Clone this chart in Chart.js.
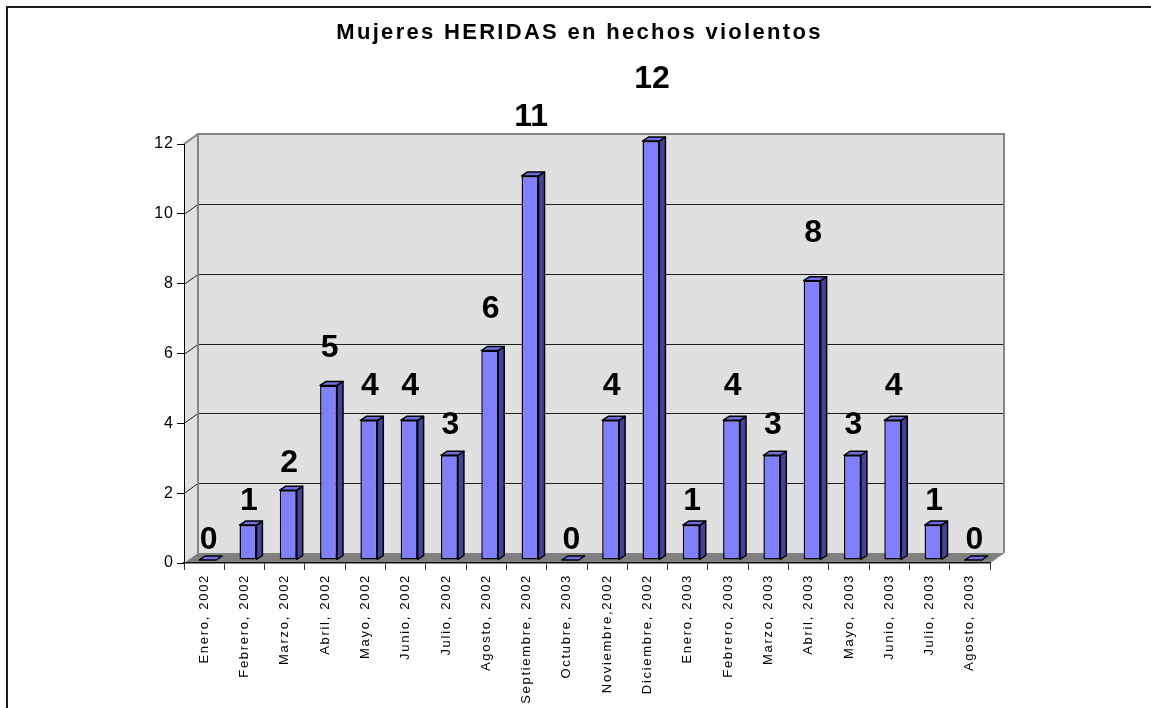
<!DOCTYPE html>
<html>
<head>
<meta charset="utf-8">
<script src="https://cdn.jsdelivr.net/npm/chart.js@4.4.0/dist/chart.umd.min.js"></script>
<style>
  html, body { margin: 0; padding: 0; background: #ffffff; }
  #wrap { width: 1151px; height: 708px; }
  canvas { display: block; }
</style>
</head>
<body>
<div id="wrap"><canvas id="chart" width="1151" height="708"></canvas></div>
<script>
// Monthly count of women injured in violent incidents
const categories = [
  'Enero, 2002', 'Febrero, 2002', 'Marzo, 2002', 'Abril, 2002', 'Mayo, 2002',
  'Junio, 2002', 'Julio, 2002', 'Agosto, 2002', 'Septiembre, 2002', 'Octubre, 2003',
  'Noviembre,2002', 'Diciembre, 2002', 'Enero, 2003', 'Febrero, 2003', 'Marzo, 2003',
  'Abril, 2003', 'Mayo, 2003', 'Junio, 2003', 'Julio, 2003', 'Agosto, 2003'
];
const heridas = [0, 1, 2, 5, 4, 4, 3, 6, 11, 0, 4, 12, 1, 4, 3, 8, 3, 4, 1, 0];
const axisMax = 12;
const axisStep = 2;
const chartTitle = 'Mujeres HERIDAS en hechos violentos';

const FONT = "'Liberation Sans', Arial, Helvetica, sans-serif";

// Depth offsets of the pseudo-3D walls and of the bars
const WALL = { dx: 14, dy: -10 };
const BAR = { dx: 3.5, dy: -3, depthX: 6, depthY: -4 };

function tracePath(ctx, pts) {
  ctx.beginPath();
  ctx.moveTo(pts[0][0], pts[0][1]);
  for (let i = 1; i < pts.length; i++) ctx.lineTo(pts[i][0], pts[i][1]);
  ctx.closePath();
}

// Frame, back wall, side wall, floor and wall gridlines
const walls3d = {
  id: 'walls3d',
  beforeDraw(chart) {
    const { ctx, chartArea: a, scales: { y } } = chart;
    const L = a.left, R = a.right, T = a.top, B = a.bottom;
    const dx = WALL.dx, dy = WALL.dy;
    ctx.save();
    ctx.fillStyle = '#ffffff';
    ctx.fillRect(0, 0, chart.width, chart.height);

    // outer frame (top and left edges)
    ctx.strokeStyle = '#1c1c1c';
    ctx.lineWidth = 2;
    ctx.beginPath();
    ctx.moveTo(7, chart.height);
    ctx.lineTo(7, 7);
    ctx.lineTo(chart.width, 7);
    ctx.stroke();

    // walls
    ctx.fillStyle = '#e0e0e0';
    tracePath(ctx, [[L, T], [L + dx, T + dy], [L + dx, B + dy], [L, B]]);
    ctx.fill();
    ctx.fillRect(L + dx, T + dy, R - L, B - T);

    // floor
    ctx.fillStyle = '#808080';
    tracePath(ctx, [[L, B], [R, B], [R + dx, B + dy], [L + dx, B + dy]]);
    ctx.fill();

    // gridlines on side and back wall
    ctx.strokeStyle = '#1e1e1e';
    ctx.lineWidth = 1;
    y.ticks.forEach(t => {
      if (t.value <= 0 || t.value >= axisMax) return;
      const py = Math.round(y.getPixelForValue(t.value)) + 0.5;
      ctx.beginPath();
      ctx.moveTo(L, py);
      ctx.lineTo(L + dx, py + dy);
      ctx.lineTo(R + dx, py + dy);
      ctx.stroke();
    });

    // wall edges
    ctx.strokeStyle = '#858585';
    ctx.lineWidth = 2;
    ctx.beginPath();
    ctx.moveTo(L, T);
    ctx.lineTo(L + dx, T + dy);
    ctx.lineTo(R + dx, T + dy);
    ctx.lineTo(R + dx, B + dy);
    ctx.moveTo(L + dx, T + dy);
    ctx.lineTo(L + dx, B + dy);
    ctx.stroke();
    ctx.strokeStyle = '#9a9a9a';
    ctx.lineWidth = 1;
    ctx.beginPath();
    ctx.moveTo(R, B);
    ctx.lineTo(R + dx, B + dy);
    ctx.stroke();
    ctx.restore();
  }
};

// Bars get shifted into the depth, then side and top faces plus value labels
const bars3d = {
  id: 'bars3d',
  beforeDatasetsDraw(chart) {
    chart.ctx.save();
    chart.ctx.translate(BAR.dx, BAR.dy);
  },
  afterDatasetsDraw(chart) {
    const ctx = chart.ctx;
    const meta = chart.getDatasetMeta(0);
    const ex = BAR.depthX, ey = BAR.depthY;
    ctx.lineWidth = 1.5;
    ctx.strokeStyle = '#000000';
    ctx.lineJoin = 'round';
    meta.data.forEach(bar => {
      const { x, y, base, width } = bar.getProps(['x', 'y', 'base', 'width'], true);
      const l = x - width / 2, r = x + width / 2;
      if (base - y > 0.5) {
        ctx.fillStyle = '#43439c';
        tracePath(ctx, [[r, y], [r + ex, y + ey], [r + ex, base + ey], [r, base]]);
        ctx.fill();
        ctx.stroke();
      }
      ctx.fillStyle = '#6e6ee0';
      tracePath(ctx, [[l, y], [l + ex, y + ey], [r + ex, y + ey], [r, y]]);
      ctx.fill();
      ctx.stroke();
    });
    ctx.restore();

    // value labels
    const yScale = chart.scales.y;
    ctx.save();
    ctx.fillStyle = '#000000';
    ctx.font = 'bold 32px ' + FONT;
    ctx.textAlign = 'center';
    ctx.textBaseline = 'middle';
    meta.data.forEach((bar, i) => {
      const v = heridas[i];
      const lx = bar.x + BAR.dx + 1;
      const ly = yScale.getPixelForValue(v * 1.1) - 23;
      ctx.fillText(String(v), lx, ly);
    });
    ctx.restore();
  }
};

// Wider character spacing for title and axis labels
const spacedText = {
  id: 'spacedText',
  afterLayout(chart) {
    const ctx = chart.ctx;
    const wrap = (obj, key, ls) => {
      if (!obj || obj['_spaced_' + key]) return;
      const orig = obj[key];
      obj[key] = function (...args) {
        ctx.save();
        ctx.letterSpacing = ls;
        orig.apply(this, args);
        ctx.restore();
      };
      obj['_spaced_' + key] = true;
    };
    wrap(chart.titleBlock, 'draw', '2.3px');
    wrap(chart.scales.x, 'drawLabels', '1.7px');
    wrap(chart.scales.y, 'drawLabels', '1px');
  }
};

new Chart(document.getElementById('chart'), {
  type: 'bar',
  data: {
    labels: categories,
    datasets: [{
      data: heridas,
      backgroundColor: '#8080ff',
      borderColor: '#000000',
      borderWidth: 1.5,
      borderSkipped: false,
      categoryPercentage: 1,
      barPercentage: 0.42,
      clip: false
    }]
  },
  options: {
    responsive: false,
    animation: false,
    devicePixelRatio: 1,
    layout: { padding: { left: 8, top: 0, right: 0, bottom: 0 } },
    plugins: {
      legend: { display: false },
      tooltip: { enabled: false },
      title: {
        display: true,
        text: chartTitle,
        color: '#000000',
        font: { family: FONT, size: 22, weight: 'bold' },
        padding: { top: 20, bottom: 97.6 }
      }
    },
    scales: {
      x: {
        grid: {
          display: true,
          offset: true,
          drawOnChartArea: false,
          drawTicks: true,
          tickLength: 7,
          color: '#333333'
        },
        border: { display: true, color: '#111111', width: 1.5 },
        ticks: {
          autoSkip: false,
          maxRotation: 90,
          minRotation: 90,
          padding: 4,
          color: '#000000',
          font: { family: FONT, size: 13 }
        },
        afterFit(scale) { scale.height = 145; }
      },
      y: {
        min: 0,
        max: axisMax,
        grid: {
          display: true,
          drawOnChartArea: false,
          drawTicks: true,
          tickLength: 7,
          color: '#000000'
        },
        border: { display: true, color: '#000000', width: 1 },
        ticks: {
          stepSize: axisStep,
          padding: 3,
          color: '#000000',
          font: { family: FONT, size: 16 }
        },
        afterFit(scale) { scale.width = 176; }
      },
      spare: {
        position: 'right',
        display: true,
        grid: { display: false },
        border: { display: false },
        ticks: { display: false },
        afterFit(scale) { scale.width = 161; }
      }
    }
  },
  plugins: [walls3d, bars3d, spacedText]
});
</script>
</body>
</html>
